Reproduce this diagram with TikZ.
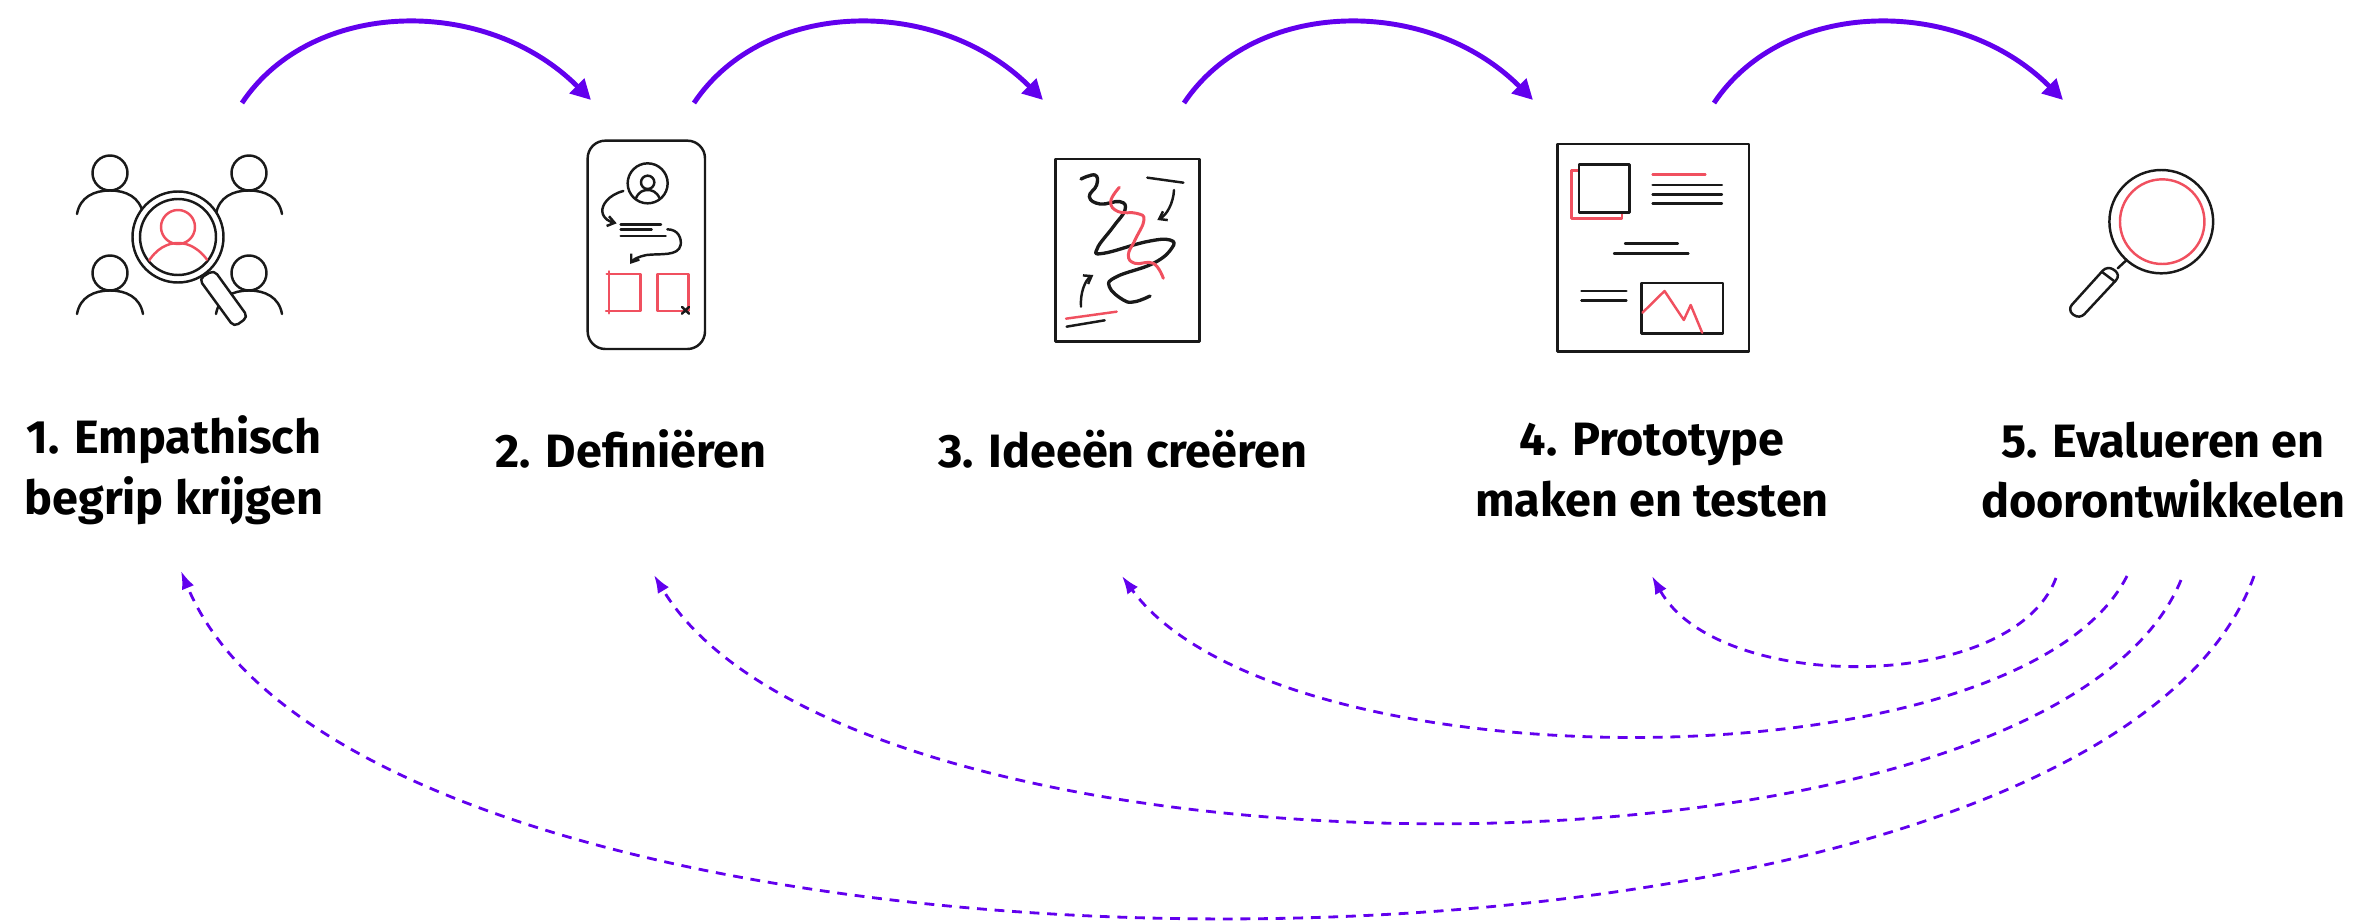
\documentclass[tikz,border=0pt]{standalone}
\usepackage{xcolor}
\usepackage{fontspec}
\setmainfont{Fira Sans}
\usepackage{tikz}
\usetikzlibrary{arrows.meta,calc,positioning}
\definecolor{flowviolet}{RGB}{98, 0, 238}
\definecolor{sketchred}{RGB}{240, 80, 95}
\tikzset{
	x=0.01cm,y=-0.01cm,
	phase/.style ={align=center, inner sep=0pt, font=\fontsize{13.3}{17.2}\selectfont\bfseries},
	forward/.style={-{Triangle[length=0.2cm,width=0.2cm]}, flowviolet, line width=1.4pt},
	backward/.style={-{Latex[length=0.18cm,width=0.13cm]}, flowviolet, line width=0.8pt, dash pattern=on 2.8pt off 2.2pt},
	ink/.style={black!90, line width=0.7pt, line cap=round, line join=round},
	redink/.style={ink, sketchred},
	tip/.style={-{Straight Barb[length=0.07cm,width=0.1cm]}},
	person/.pic={
		\draw[pic actions] (0,-21) circle [radius=17.5];
		\draw[pic actions] (-33,20) .. controls (-30,3) and (-16,-3.5) .. (0,-3.5) .. controls (16,-3.5) and (30,3) .. (33,20);
	}
}
\begin{document}
\begin{tikzpicture}
    \useasboundingbox (0,0) rectangle (2370,921);

    % labels
    \node[phase] (empathize) at (174,470) {1. Empathisch\\begrip krijgen};
    \node[phase] (define) at (631,449) {2. Definiëren};
    \node[phase] (ideate) at (1123,449) {3. Ideeën creëren};
    \node[phase] (prototype) at (1652,470) {4. Prototype\\maken en testen};
    \node[phase] (evaluate) at (2163,470) {5. Evalueren en\\doorontwikkelen};

    % connector ends
    \coordinate (f1) at (242,103);
    \coordinate (f2) at (591,100);
    \coordinate (f3) at (694,103);
    \coordinate (f4) at (1043,100);
    \coordinate (f5) at (1184,103);
    \coordinate (f6) at (1533,100);
    \coordinate (f7) at (1714,103);
    \coordinate (f8) at (2063,100);
    \coordinate (b4) at (2056,578);
    \coordinate (e4) at (1652,576);
    \coordinate (b3) at (2127,576);
    \coordinate (e3) at (1122,576);
    \coordinate (b2) at (2181,580);
    \coordinate (e2) at (654,575);
    \coordinate (b1) at (2254,576);
    \coordinate (e1) at (181,571);

    \draw[forward] (f1) .. controls +(70,-105) and +(-105,-105) .. (f2);
    \draw[forward] (f3) .. controls +(70,-105) and +(-105,-105) .. (f4);
    \draw[forward] (f5) .. controls +(70,-105) and +(-105,-105) .. (f6);
    \draw[forward] (f7) .. controls +(70,-105) and +(-105,-105) .. (f8);

    \draw[backward] (b4) .. controls +(-44,116) and +(66,118) .. (e4);
    \draw[backward] (b3) .. controls +(-108,213) and +(155,213) .. (e3);
    \draw[backward] (b2) .. controls +(-135,326) and +(197,326) .. (e2);
    \draw[backward] (b1) .. controls +(-165,458) and +(190,458) .. (e1);

    % 1: people and magnifier
    \pic[ink] at (110,194) {person};
    \pic[ink] at (249,194) {person};
    \pic[ink] at (110,294) {person};
    \pic[ink] at (249,294) {person};
    \draw[ink,fill=white,rounded corners=1.5pt] (199,279) -- (214,270) -- (248,317) -- (234,327) -- cycle;
    \draw[ink,fill=white] (178,237) circle [radius=45.5];
    \draw[ink,fill=white] (178,237) circle [radius=38];
    \begin{scope}
        \clip (178,237) circle [radius=37.5];
        \draw[redink] (178,227) circle [radius=17];
        \draw[redink] (147,264) .. controls (156,248) and (168,243) .. (178,243) .. controls (188,243) and (200,248) .. (210,264);
    \end{scope}

    % 2: phone
    \begin{scope}[shift={(550,130)},scale=1/3]
        \draw[ink,rounded corners=5pt] (113,32) rectangle (465,657);
        \draw[ink] (293,160) circle [radius=60];
        \draw[ink] (293,157) circle [radius=20];
        \draw[ink] (257,207) .. controls (265,185) and (280,180) .. (293,180) .. controls (306,180) and (320,185) .. (329,205);
        \draw[ink,tip] (220,183) .. controls (175,195) and (155,225) .. (157,245) .. controls (160,268) and (180,275) .. (200,280);
        \draw[ink] (212,284) -- (333,284);
        \draw[ink] (212,299) -- (305,299);
        \draw[ink] (212,318) -- (347,318);
        \draw[ink,tip] (352,298) .. controls (385,298) and (395,325) .. (392,345) .. controls (385,380) and (330,370) .. (290,375) .. controls (265,380) and (250,388) .. (240,402);
        \draw[redink] (177,424) -- (177,550);
        \draw[redink] (168,543) -- (272,543) -- (272,432) -- (170,432);
        \draw[redink] (322,432) rectangle (415,543);
        \draw[ink] (396,531) -- (417,551) (417,531) -- (396,551);
    \end{scope}

    % 3: sketch
    \begin{scope}[shift={(1020,130)},scale=1/3]
        \draw[ink,line width=0.85pt] (105,87) rectangle (538,635);
        \draw[ink,line width=0.95pt] plot[smooth,tension=0.75] coordinates {(183,147) (225,135) (230,165) (208,200) (240,222) (300,215) (315,240) (280,290) (232,355) (250,370) (380,335) (450,330) (455,355) (400,400) (290,440) (268,470) (310,510) (345,515) (390,498)};
        \draw[redink,line width=0.85pt] plot[smooth,tension=0.75] coordinates {(298,172) (272,215) (295,245) (350,250) (372,270) (345,330) (325,375) (345,400) (400,400) (430,445)};
        \draw[ink] (382,143) -- (490,158);
        \draw[ink,tip] (462,180) .. controls (460,220) and (440,255) .. (412,270);
        \draw[ink,tip] (183,530) .. controls (180,490) and (195,450) .. (220,435);
        \draw[redink] (138,566) -- (290,545);
        \draw[ink] (140,590) -- (254,571);
    \end{scope}

    % 4: document
    \begin{scope}[shift={(1530,130)},xscale=1/2.178,yscale=1/3]
        \draw[ink] (60,42) rectangle (477,665);
        \draw[redink] (90,122) rectangle (200,265);
        \draw[ink,fill=white] (107,103) rectangle (217,247);
        \draw[redink] (267,133) -- (382,133);
        \foreach \liney in {165,193,221}
            \draw[ink] (267,\liney) -- (418,\liney);
        \draw[ink] (207,340) -- (322,340);
        \draw[ink] (183,370) -- (345,370);
        \draw[ink] (112,483) -- (210,483);
        \draw[ink] (112,512) -- (210,512);
        \draw[ink] (243,459) rectangle (420,610);
        \draw[redink] (245,548) -- (293,483) -- (335,570) -- (350,525) -- (375,608);
    \end{scope}

    % 5: magnifier
    \begin{scope}[shift={(1530,130)},xscale=1/2.178,yscale=1/3]
        \draw[ink] (1375,275) ellipse [x radius=113,y radius=155];
        \draw[redink] (1377,275) ellipse [x radius=92,y radius=127];
        \draw[ink] (1298,392) -- (1280,415);
        \draw[ink,rounded corners=2pt] (1258,406) -- (1287,435) -- (1197,568) -- (1170,540) -- cycle;
        \draw[ink] (1245,425) -- (1274,455);
    \end{scope}
\end{tikzpicture}
\end{document}
